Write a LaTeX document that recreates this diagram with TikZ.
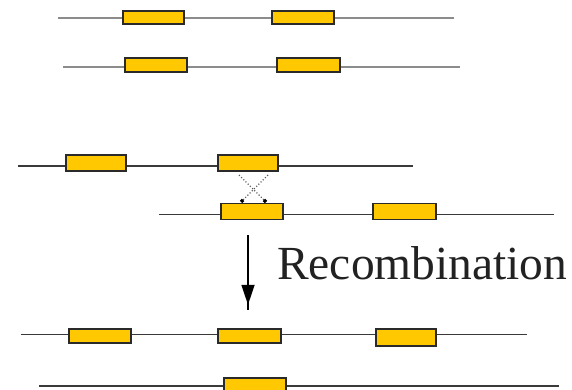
\documentclass[tikz,border=0pt]{standalone}
\usepackage{fontspec}
\setmainfont{Liberation Serif}
\usetikzlibrary{arrows.meta,decorations.markings}
\definecolor{geneyellow}{HTML}{FFC800}
\definecolor{boxedge}{HTML}{2A2A2A}
\definecolor{lightline}{HTML}{8C8C8C}
\definecolor{darkline}{HTML}{3A3A3A}
\definecolor{textgray}{HTML}{222222}
\tikzset{
  gene/.style={draw=boxedge, fill=geneyellow, line width=1.4pt, inner sep=0pt,
    minimum width=#1, minimum height=14pt},
  gene/.default=62pt,
  strandlight/.style={draw=lightline, line width=2pt},
  strand/.style={draw=darkline, line width=1.8pt},
  crossarrow/.style={draw=black!65, dotted, line width=1.1pt, -{Square[length=3pt,width=3.5pt,black]}},
  bigarrow/.style={draw=black, line width=1.8pt,
    decoration={markings, mark=at position 0.93 with {\arrow{Triangle[length=20pt,width=13pt]}}},
    postaction=decorate}
}
\begin{document}
\begin{tikzpicture}[x=1pt,y=-1pt]
\useasboundingbox (0,0) rectangle (572,390);
% Row 1
\coordinate (l1) at (58,18.5); \coordinate (r1) at (454,18.5);
\draw[strandlight] (l1) -- (r1);
\node[gene=61pt, minimum height=13pt] (g11) at (153.5,17.5) {};
\node[gene=62pt, minimum height=13pt] (g12) at (303,17.5) {};
% Row 2
\coordinate (l2) at (63,67); \coordinate (r2) at (460,67);
\draw[strandlight] (l2) -- (r2);
\node[gene=62pt] (g21) at (156,65) {};
\node[gene=63pt] (g22) at (308.5,65) {};
% Row 3
\coordinate (l3) at (18,166); \coordinate (r3) at (413,166);
\draw[strand] (l3) -- (r3);
\node[gene=60pt, minimum height=16pt] (g31) at (96,163) {};
\node[gene=60pt, minimum height=16pt] (g32) at (248,163) {};
% Row 4
\coordinate (l4) at (159,214.5); \coordinate (r4) at (554,214.5);
\draw[strand] (l4) -- (r4);
\node[gene=62pt, minimum height=16pt] (g41) at (252,211.5) {};
\node[gene=63pt, minimum height=16pt] (g42) at (404.5,211.5) {};
% Crossover
\coordinate (c1) at (239,175); \coordinate (c2) at (266,202);
\coordinate (c3) at (268,175); \coordinate (c4) at (241,202);
\draw[crossarrow] (c1) -- (c2);
\draw[crossarrow] (c3) -- (c4);
% Recombination arrow
\coordinate (a1) at (248,235); \coordinate (a2) at (248,310);
\draw[bigarrow] (a1) -- (a2);
\node[anchor=base west, text=textgray, font=\fontsize{47.5}{50}\selectfont, inner sep=0pt] (lbl) at (277,279) {Recombination};
% Row 5
\coordinate (l5) at (21,334.5); \coordinate (r5) at (527,334.5);
\draw[strand] (l5) -- (r5);
\node[gene=62pt] (g51) at (100,336) {};
\node[gene=63pt] (g52) at (249.5,336) {};
\node[gene=60pt, minimum height=17pt] (g53) at (406,337.5) {};
% Row 6
\coordinate (l6) at (39,386); \coordinate (r6) at (559,386);
\draw[strand] (l6) -- (r6);
\node[gene=62pt, minimum height=15pt] (g61) at (255,385.5) {};
\end{tikzpicture}
\end{document}
